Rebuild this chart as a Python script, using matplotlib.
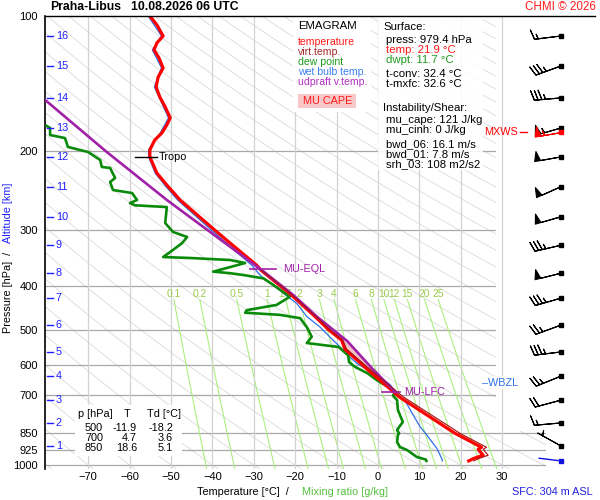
import numpy as np
import matplotlib.pyplot as plt
from matplotlib.patches import Rectangle
from matplotlib.lines import Line2D
from matplotlib.ticker import NullLocator

plt.rcParams['font.family'] = ['Liberation Sans', 'DejaVu Sans']

W, H = 600, 500
T_MIN, T_MAX = -80.5, 40.5
P_TOP, P_BOT = 100, 1020

# environment temperature
temp_p = [100, 104.7, 110.8, 114.8, 119, 124, 130.5, 136.8, 143.9, 151.5, 159.4, 168.7,
          174.8, 182.2, 188.8, 198.6, 206, 223.8, 238, 257, 300, 316, 359, 368, 415, 467,
          500, 527, 552, 625, 688, 700, 707, 850, 913, 922, 933, 951, 959, 968, 979.4]
temp_t = [-55.1, -53.4, -51.9, -53.4, -54.1, -52.9, -51.9, -53.1, -53.6, -52.7, -51.4, -50.2,
          -51.0, -52.2, -53.9, -55.1, -55.1, -53.4, -51.0, -47.8, -39.4, -36.5, -29.3, -28.3, -21.3, -15.2,
          -11.9, -8.8, -8.0, -1.5, 3.8, 4.7, 5.3, 18.6, 25.0, 24.2, 24.6, 25.4, 24.2, 23.0, 21.9]

# virtual temperature (lower part, above it hides under T)
tv_p = [368, 415, 467, 500, 527, 552, 625, 688, 700, 707, 850, 913, 922, 933, 951, 959, 968, 979.4]
tv_t = [-28.2, -21.1, -14.9, -11.6, -8.5, -7.6, -0.8, 4.7, 5.7, 6.3, 19.8, 26.2, 25.4, 25.8,
        26.6, 25.5, 24.3, 23.1]

# dew point
td_p = [175.8, 177.6, 184.1, 187.0, 195.7, 200.9, 209.3, 216.9, 218.0, 229.5, 234.3, 244.1,
        247.9, 256.9, 261, 264, 266.4, 289.1, 302.7, 310.6, 320.4, 335.5, 344.2, 345.9, 349.5,
        354.9, 371, 374, 377.5, 384, 397, 422, 440, 452, 458, 463, 471, 493, 518, 535, 546,
        570, 590, 605, 625, 647, 674, 693, 700, 717, 754, 774, 802, 823, 836, 850, 858, 889,
        912, 926, 960, 972, 979.4]
td_t = [-80.0, -79.2, -79.2, -75.6, -74.9, -70.0, -67.1, -66.7, -64.7, -63.5, -64.7, -64.0,
        -59.4, -58.2, -59.9, -58.7, -51.0, -51.4, -49.5, -46.1, -47.3, -50.2, -51.9, -45.4, -35.7,
        -32.1, -39.8, -35.7, -32.5, -27.7, -25.3, -21.3, -24.5, -31.7, -32.1, -23.7, -18.8, -17.2,
        -16.0, -17.2, -9.5, -7.2, -7.0, -5.5, -2.5, -0.3, 2.9, 4.1, 3.6, 4.6, 4.8, 5.3, 6.0, 5.1,
        4.6, 5.1, 4.8, 4.6, 5.3, 7.0, 9.4, 11.5, 11.7]

# wet bulb temperature
wb_p = [100, 110.8, 119, 130.5, 143.9, 159.4, 168.7, 182.2, 198.6, 206, 224, 238, 257, 300,
        316, 359, 380, 414, 437, 467, 493, 519, 541, 575, 594, 613, 630, 662, 693, 729, 774,
        820, 858, 918, 972, 979.4]
wb_t = [-55.5, -52.3, -54.5, -52.3, -54.0, -51.8, -50.6, -52.6, -55.4, -55.4, -53.8, -51.5,
        -48.4, -40.2, -37.4, -30.5, -28.2, -22.9, -19.6, -17.2, -14.0, -11.6, -9.6, -6.8, -5.1,
        -2.7, -0.3, 2.9, 4.6, 6.9, 8.5, 10.1, 11.8, 14.2, 15.5, 15.5]

# MU parcel virtual temperature
parcel_p = [153.8, 200.9, 256.9, 368, 418, 467, 530, 610, 688]
parcel_t = [-80.4, -65.5, -51.0, -28.1, -20.5, -14.8, -7.4, -1.4, 4.2]

# levels
lfc_p = 688
eql_p = 366
tropo_p = 206
wbzl_p = 656

# pressure / altitude scales
p_ticks = [100, 200, 300, 400, 500, 600, 700, 850, 925, 1000]
alt_km = [16, 15, 14, 13, 12, 11, 10, 9, 8, 7, 6, 5, 4, 3, 2, 1]
alt_p = [110.8, 129.2, 152.2, 177.6, 206, 240, 280, 324, 374, 425, 488, 560, 634, 717, 806, 907]

# winds at altitude levels (deg, speed)
wind_dir = [263, 250, 265, 254, 260, 246, 254, 257, 256, 254, 250, 263, 248, 255, 265, 299]
wind_spd = [15, 35, 35, 55, 50, 50, 50, 35, 50, 35, 25, 35, 25, 20, 15, 5]
mxws_p, mxws_dir, mxws_spd = 181.3, 260, 55
sfc_p, sfc_dir = 979.4, 277

mix_ratio = [0.1, 0.2, 0.5, 1, 1.5, 2, 3, 4, 6, 8, 10, 12, 15, 20, 25]
mix_labels = ['0.1', '0.2', '0.5', '1', '1.5', '2', '3', '4', '6', '8', '10', '12', '15', '20', '25']

table_p = ['500', '700', '850']
table_t = ['-11.9', '4.7', '18.6']
table_td = ['-18.2', '3.6', '5.1']

legend_labels = ['temperature', 'virt.temp.', 'dew point', 'wet bulb temp.', 'udpraft v.temp.']
legend_colors = ['#ff1a1a', '#a32a2a', '#1f9a1f', '#3a7ff0', '#b030c0']

info_lines = [('Surface:', 'k', 383, 27), ('press: 979.4 hPa', 'k', 386, 40),
              ('temp: 21.9 °C', '#ff1a1a', 386, 50), ('dwpt: 11.7 °C', '#1f9a1f', 386, 60),
              ('t-conv: 32.4 °C', 'k', 386, 74), ('t-mxfc: 32.6 °C', 'k', 386, 84),
              ('Instability/Shear:', 'k', 383, 108), ('mu_cape: 121 J/kg', 'k', 386, 120),
              ('mu_cinh: 0 J/kg', 'k', 386, 130), ('bwd_06: 16.1 m/s', 'k', 386, 144),
              ('bwd_01: 7.8 m/s', 'k', 386, 154), ('srh_03: 108 m2/s2', 'k', 386, 164)]


def fx(x):
    return x / W


def fy(y):
    return 1 - y / H


def ftext(x, y, s, **kw):
    kw.setdefault('va', 'center')
    kw.setdefault('fontsize', 7.6)
    return fig.text(fx(x), fy(y), s, **kw)


def fbox(x0, y0, x1, y1, color='white', alpha=1.0, z=1):
    fig.patches.append(Rectangle((fx(x0), fy(y1)), (x1 - x0) / W, (y1 - y0) / H,
                                 transform=fig.transFigure, facecolor=color,
                                 edgecolor='none', alpha=alpha, zorder=z))


fig = plt.figure(figsize=(W / 100, H / 100), dpi=100)
ax_bottom = fy(16 + 449 * np.log10(P_BOT / 100))
ax_top = fy(16)
ax_left, ax_right = fx(44.7), fx(545.7)
ax = fig.add_axes([ax_left, ax_bottom, ax_right - ax_left, ax_top - ax_bottom])
ax.set_yscale('log')
ax.set_ylim(P_BOT, P_TOP)
ax.set_xlim(T_MIN, T_MAX)

# dry adiabats
pg = np.geomspace(P_TOP, P_BOT, 80)
for th in range(-80, 340, 10):
    ax.plot((th + 273.15) * (pg / 1000) ** 0.2857 - 273.15, pg, color='#dadada', lw=0.6, zorder=1)

# isobars and isotherms
for p in p_ticks[1:]:
    ax.axhline(p, color='#a8a8a8', lw=0.9, zorder=1.2)
ax.add_patch(Rectangle((28.6, P_TOP), T_MAX - 28.6, 840 - P_TOP, facecolor='white',
                       edgecolor='none', zorder=1.5))
for t in range(-70, 40, 10):
    ax.axvline(t, color='#d2d2d2', lw=0.9, zorder=1.6)

# mixing ratio lines
pm = np.geomspace(428, P_BOT, 30)
for w, lab in zip(mix_ratio, mix_labels):
    a = np.log(w * pm / (622 + w) / 6.112)
    tm = 243.5 * a / (17.67 - a)
    ax.plot(tm, pm, color='#aaf07e', lw=0.8, zorder=1.3)
    ax.text(tm[0], 417, lab, color='#9acd4c', fontsize=7.4, ha='center', va='center', zorder=1.7)

# CAPE area between parcel and environment
tp, tt = np.array(temp_p), np.array(temp_t)
sel = (tp >= eql_p) & (tp <= lfc_p)
cape_t = list(parcel_t[3:]) + list(tt[sel][::-1])
cape_p = list(parcel_p[3:]) + list(tp[sel][::-1])
ax.fill(cape_t, cape_p, color='#f6c4c4', lw=0, zorder=3)

ax.plot(wb_t, wb_p, color='#2f6fe8', lw=0.9, zorder=4)
ax.plot(td_t, td_p, color='#0a8a0a', lw=1.9, zorder=4.5)
ax.plot(temp_t, temp_p, color='#ff0000', lw=2.3, zorder=5)
ax.plot(tv_t, tv_p, color='#a81010', lw=0.8, zorder=6)
ax.plot(parcel_t, parcel_p, color='#a020a8', lw=1.9, zorder=5.5)

# level marks
ax.plot([-58.7, -53.4], [tropo_p, tropo_p], color='k', lw=1, zorder=7)
ax.text(-53.0, tropo_p, 'Tropo', fontsize=7.8, va='center', zorder=7)
ax.plot([-30.9, -24.6], [eql_p, eql_p], color='#a020a8', lw=1.2, zorder=7)
ax.text(-23.0, eql_p, 'MU-EQL', fontsize=7.8, color='#a020a8', va='center', zorder=7)
ax.plot([1.0, 5.3], [lfc_p, lfc_p], color='#a020a8', lw=1.2, zorder=7)
ax.text(6.2, lfc_p, 'MU-LFC', fontsize=7.8, color='#a020a8', va='center', zorder=7)
ax.text(25.2, wbzl_p, '–WBZL', fontsize=7.8, color='#2f6fe8', va='center', zorder=7,
        bbox=dict(facecolor='white', edgecolor='none', pad=1))

# altitude scale
ytr = ax.get_yaxis_transform()
for km, p in zip(alt_km, alt_p):
    ax.plot([0.005, 0.017], [p, p], color='#2020ff', lw=1, transform=ytr, zorder=7)
    ax.text(0.022, p, str(km), color='#2020ff', fontsize=7.8, va='center', transform=ytr, zorder=7)

ax.yaxis.set_minor_locator(NullLocator())
ax.set_yticks(p_ticks)
ax.set_yticklabels([str(p) for p in p_ticks])
ax.set_xticks(range(-70, 40, 10))
ax.tick_params(axis='x', length=0, pad=2.5, labelsize=8)
ax.tick_params(axis='y', length=0, pad=5, labelsize=8)
for s in ['top', 'right', 'bottom']:
    ax.spines[s].set_visible(False)
ax.spines['left'].set_linewidth(1.2)

# wind barbs column
axw = fig.add_axes([0, ax_bottom, 1, ax_top - ax_bottom])
axw.set_yscale('log')
axw.set_ylim(P_BOT, P_TOP)
axw.set_xlim(0, W)
axw.axis('off')
axw.patch.set_alpha(0)
rad = np.radians(wind_dir)
u = -np.array(wind_spd) * np.sin(rad)
v = -np.array(wind_spd) * np.cos(rad)
bx = [561] * len(alt_p)
barb_sizes = dict(spacing=0.14, height=0.36, width=0.22)
axw.barbs(bx, alt_p, u, v, length=6.2, lw=0.8, color='k', sizes=barb_sizes, zorder=5)
axw.plot(bx, alt_p, 's', ms=2.5, color='k', zorder=6)
mr = np.radians(mxws_dir)
axw.barbs([561], [mxws_p], [-mxws_spd * np.sin(mr)], [-mxws_spd * np.cos(mr)],
          length=6.2, lw=0.8, color='red', sizes=barb_sizes, zorder=6)
axw.plot([561], [mxws_p], 's', ms=2.5, color='red', zorder=6)
axw.plot([520, 527], [mxws_p, mxws_p], color='red', lw=1)
axw.text(518, mxws_p, 'MXWS', color='red', fontsize=7.8, ha='right', va='center')
sr = np.radians(sfc_dir)
axw.annotate('', xy=(561, sfc_p), xytext=(18 * np.sin(sr), 18 * np.cos(sr)),
             textcoords='offset points', arrowprops=dict(arrowstyle='-', color='#1010e0', lw=1))
axw.plot([561], [sfc_p], 's', ms=2.5, color='#1010e0')

# frame line, title
fig.add_artist(Line2D([fx(45), fx(595)], [fy(15.5), fy(15.5)], color='k', lw=1))
ftext(50, 7, 'Praha-Libus', fontsize=8.8, fontweight='bold')
ftext(131, 7, '10.08.2026 06 UTC', fontsize=8.8, fontweight='bold')
ftext(596, 7, 'CHMI © 2026', fontsize=8.4, color='#ff1a1a', ha='right')

# legend box
fbox(293, 16.5, 371, 112)
ftext(298, 26, 'EMAGRAM', fontsize=8.2)
for i, (lab, col) in enumerate(zip(legend_labels, legend_colors)):
    ftext(298, 42 + 10 * i, lab, color=col)
fbox(298, 94, 356, 108, color='#f8c8c8', z=1.5)
ftext(303, 101, 'MU CAPE', color='#ff1a1a', fontsize=7.8)

# info box
fbox(378, 16.5, 483, 170, alpha=0.88)
for s, col, x, y in info_lines:
    ftext(x, y, s, color=col, fontsize=8.2)

# table
fbox(75, 405, 182, 456)
ftext(78, 414, 'p [hPa]', fontsize=7.8)
ftext(127, 414, 'T', fontsize=7.8, ha='center')
ftext(147, 414, 'Td [°C]', fontsize=7.8)
for i in range(len(table_p)):
    ftext(103, 428 + 10 * i, table_p[i], ha='right', fontsize=7.8)
    ftext(137, 428 + 10 * i, table_t[i], ha='right', fontsize=7.8)
    ftext(173, 428 + 10 * i, table_td[i], ha='right', fontsize=7.8)

# axis titles
fig.text(fx(8), fy(333), 'Pressure [hPa]  /', rotation=90, ha='center', va='bottom', fontsize=7.8)
fig.text(fx(8), fy(243), 'Altitude [km]', rotation=90, ha='center', va='bottom', fontsize=7.8,
         color='#2020ff')
ftext(197, 492, 'Temperature [°C]  /', fontsize=7.8)
ftext(302, 492, 'Mixing ratio [g/kg]', fontsize=7.8, color='#55c040')
ftext(512, 492, 'SFC: 304 m ASL', fontsize=7.8, color='#2020e0')

fig.savefig('out.png', dpi=100, facecolor='white')
